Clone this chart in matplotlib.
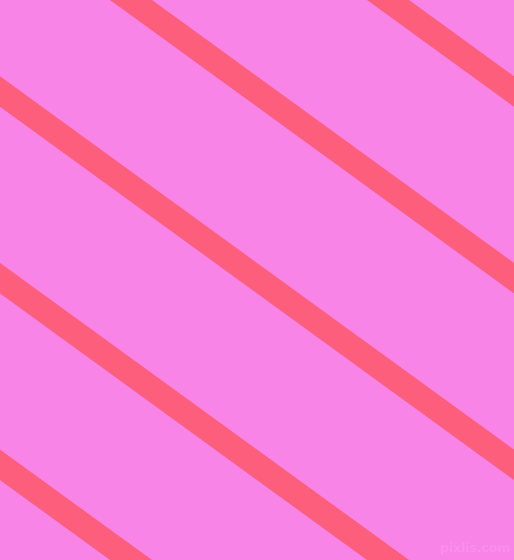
import matplotlib
matplotlib.use("Agg")
import matplotlib.pyplot as plt
import numpy as np

# stripe centre lines, given by where they cross the top edge (y = 0)
stripe_x_top = [-640, -383, -126, 131, 388]
stripe_slope = 0.7263          # dy/dx, pixels
stripe_width_h = 42            # horizontal width of one stripe, pixels

bg_color = "#F984E8"
stripe_color = "#FD5E7C"

W, H = 514, 560
fig = plt.figure(figsize=(W / 100, H / 100), dpi=100)
ax = fig.add_axes([0, 0, 1, 1])
ax.set_xlim(0, W)
ax.set_ylim(H, 0)
ax.set_facecolor(bg_color)
fig.patch.set_facecolor(bg_color)
ax.axis("off")

# draw each stripe as a filled band so its ends are cut flush by the edges
half = stripe_width_h / 2
y0, y1 = -20, H + 20
for x0 in stripe_x_top:
    xa = x0 + y0 / stripe_slope
    xb = x0 + y1 / stripe_slope
    ax.fill([xa - half, xa + half, xb + half, xb - half],
            [y0, y0, y1, y1], color=stripe_color, lw=0)

ax.text(W - 4, H - 5, "pixlis.com", ha="right", va="bottom", fontsize=9,
        color="#FC8CEE", fontweight="bold")

fig.savefig("out.png", dpi=100, facecolor=bg_color)
